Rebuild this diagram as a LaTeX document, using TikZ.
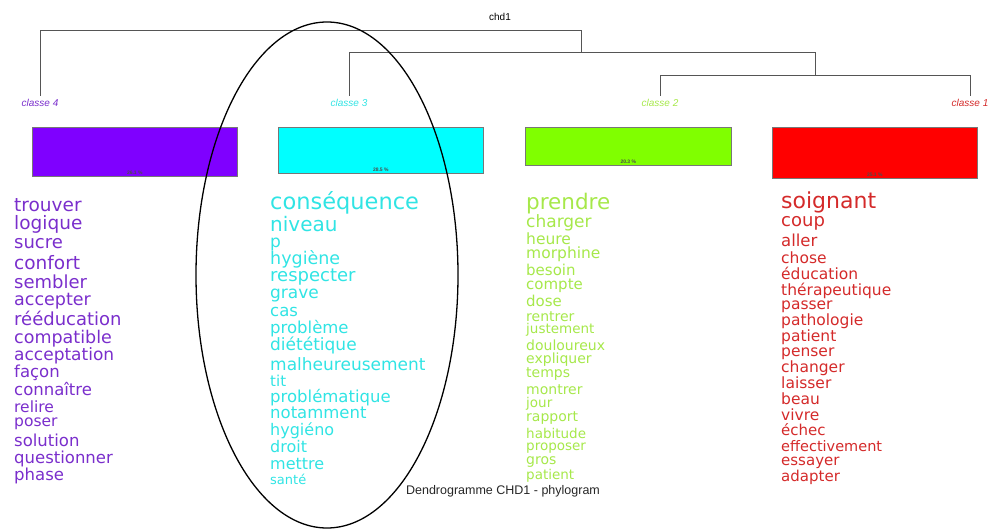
\documentclass[tikz,border=0pt]{standalone}
\usepackage{fontspec}
\setmainfont{DejaVu Sans}
\newfontfamily\lab{Liberation Sans}
\definecolor{cpurple}{HTML}{7F00FF}
\definecolor{ccyan}{HTML}{00FFFF}
\definecolor{cgreen}{HTML}{80FF00}
\definecolor{cred}{HTML}{FF0000}
\definecolor{tpurple}{HTML}{7A2ECC}
\definecolor{tcyan}{HTML}{30E4E4}
\definecolor{tgreen}{HTML}{A6E84A}
\definecolor{tred}{HTML}{D42A2A}
\definecolor{dline}{HTML}{555555}
\tikzset{
  dendro/.style={draw=dline, line width=0.9pt},
  clabel/.style={font=\lab\fontsize{10}{10}\selectfont\itshape, inner sep=0pt},
  classbox/.style={draw=dline!80, line width=0.6pt, inner sep=0pt, anchor=north west},
  pct/.style={font=\lab\fontsize{5}{5}\selectfont\bfseries, text=black!70, inner sep=0pt},
  word/.style={anchor=mid west, inner sep=0pt},
}
\begin{document}
\begin{tikzpicture}[x=1pt,y=-1pt]
\useasboundingbox (0,0) rectangle (989,529);
% dendrogram
\node[font=\lab\fontsize{10}{10}\selectfont, inner sep=0pt] (root) at (500,17) {chd1};
\coordinate (n1) at (581,30);
\coordinate (n2) at (815,52);
\coordinate (n3) at (349,52);
\coordinate (n4) at (660,75);
\coordinate (n5) at (970,75);
\node[clabel, text=tpurple] (c4) at (40,103) {classe 4};
\node[clabel, text=tcyan] (c3) at (349,103) {classe 3};
\node[clabel, text=tgreen] (c2) at (660,103) {classe 2};
\node[clabel, text=tred] (c1) at (970,103) {classe 1};
\draw[dendro] (40,96) -- (40,30) -- (n1) -- (n1 |- n2);
\draw[dendro] (349,96) -- (n3) -- (n2) -- (n2 |- n4);
\draw[dendro] (660,96) -- (n4) -- (n5) -- (970,96);
% boxes
\node[classbox, fill=cpurple, minimum width=205pt, minimum height=49pt] (b4) at (32,127) {};
\node[classbox, fill=ccyan, minimum width=205pt, minimum height=46pt] (b3) at (278,127) {};
\node[classbox, fill=cgreen, minimum width=206pt, minimum height=38pt] (b2) at (525,127) {};
\node[classbox, fill=cred, minimum width=205pt, minimum height=51pt] (b1) at (772,127) {};
\node[pct, anchor=south] (p4) at ([yshift=2pt]b4.south) {26.1 \%};
\node[pct, anchor=south] (p3) at ([yshift=2pt]b3.south) {28.5 \%};
\node[pct, anchor=south] (p2) at ([yshift=2pt]b2.south) {20.3 \%};
\node[pct, anchor=south] (p1) at ([yshift=2pt]b1.south) {25.1 \%};
% class 4 words
\foreach \y/\s/\w [count=\i] in {209/18.5/trouver, 227/18.5/logique, 246/18/sucre, 267/18.5/confort, 286/18/sembler, 303/17.5/accepter, 323/18/rééducation, 341/17.5/compatible, 358/17/acceptation, 375/16.5/façon, 393/16.5/connaître, 410/15.5/relire, 424/15.5/poser, 444/16.5/solution, 461/16.5/questionner, 478/16.5/phase}
  \node[word, text=tpurple, font=\fontsize{\s}{\s}\selectfont] (w4-\i) at (14,\y) {\w};
% class 3 words
\foreach \y/\s/\w [count=\i] in {207/22.5/conséquence, 229/20/niveau, 245/17/p, 262/17.5/hygiène, 279/18/respecter, 296/17/grave, 314/16.5/cas, 331/16.5/problème, 348/17/diététique, 368/17/malheureusement, 384/15/tit, 400/16.5/problématique, 416/16.5/notamment, 433/16/hygiéno, 450/16/droit, 467/16/mettre, 482/13/santé}
  \node[word, text=tcyan, font=\fontsize{\s}{\s}\selectfont] (w3-\i) at (270,\y) {\w};
% class 2 words
\foreach \y/\s/\w [count=\i] in {207/21.5/prendre, 225/17/charger, 242/15.5/heure, 256/15.5/morphine, 273/15/besoin, 287/15/compte, 304/15/dose, 319/14/rentrer, 331/13.5/justement, 348/14/douloureux, 361/14/expliquer, 375/14/temps, 392/14/montrer, 405/13.5/jour, 419/14/rapport, 436/13.5/habitude, 448/13.5/proposer, 462/14/gros, 477/13.5/patient}
  \node[word, text=tgreen, font=\fontsize{\s}{\s}\selectfont] (w2-\i) at (526,\y) {\w};
% class 1 words
\foreach \y/\s/\w [count=\i] in {206/22/soignant, 224/18/coup, 244/16.5/aller, 261/15.5/chose, 277/15.5/éducation, 293/15.5/thérapeutique, 307/15.5/passer, 323/15.5/pathologie, 339/15.5/patient, 354/15.5/penser, 370/15.5/changer, 386/15.5/laisser, 402/15.5/beau, 418/15.5/vivre, 433/15/échec, 449/14.5/effectivement, 463/15/essayer, 479/15/adapter}
  \node[word, text=tred, font=\fontsize{\s}{\s}\selectfont] (w1-\i) at (781,\y) {\w};
% footer
\node[font=\lab\fontsize{12.5}{12.5}\selectfont, text=black!85, inner sep=0pt] (foot) at (503,491) {Dendrogramme CHD1 - phylogram};
% ellipse
\draw[black, line width=1.3pt] (327,275) ellipse [x radius=131, y radius=253];
\end{tikzpicture}
\end{document}
